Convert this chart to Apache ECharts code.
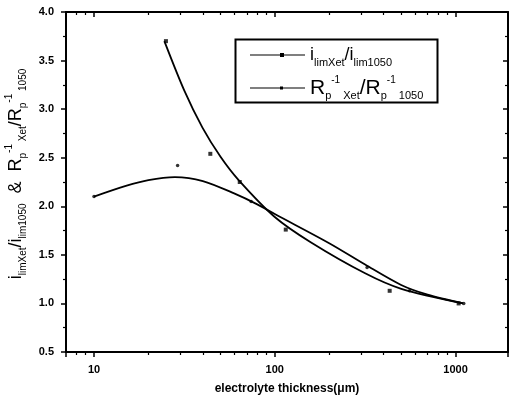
<!DOCTYPE html>
<html>
<head>
<meta charset="utf-8">
<script src="https://cdn.jsdelivr.net/npm/echarts@6/dist/echarts.min.js"></script>
<style>html,body{margin:0;padding:0;background:#fff;}#c{width:513px;height:397px;}</style>
</head>
<body>
<div id="c"></div>
<script>
// Measured points (thickness in µm, ratio)
var ilimPoints = [[25, 3.70], [44, 2.54], [64, 2.25], [115, 1.76], [432, 1.13], [1040, 1.0]];
var rpPoints = [[10, 2.10], [29, 2.42], [74, 2.05], [324, 1.37], [556, 1.13], [1110, 1.0]];
// Fitted curves
var ilimCurve = [[24.5, 3.70], [31.6, 3.19], [39.8, 2.81], [50.1, 2.51], [63.1, 2.27], [100, 1.89], [158, 1.63], [316, 1.31], [501, 1.15], [1100, 1.0]];
var rpCurve = [[10, 2.10], [15, 2.21], [20, 2.27], [28, 2.30], [40, 2.26], [60, 2.13], [80, 2.02], [100, 1.92], [200, 1.62], [316, 1.40], [500, 1.19], [700, 1.09], [1100, 1.0]];
var xTickLabels = [10, 100, 1000];

var S1 = 'ilim';
var S2 = 'rp';
var legendText = {
  ilim: '{a|i}{s|limXet}{a|/i}{s|lim1050}',
  rp: '{R|R}{s|p}{sup|-1}{s| Xet}{R|/R}{s|p}{sup|-1}{s| 1050}'
};
var FONT = '"Liberation Sans", Arial, sans-serif';

var chart = echarts.init(document.getElementById('c'));
var black = '#000';
function xAxisBase(pos, inside, showLabel) {
  return {
    type: 'log', position: pos, min: 7, max: 1950, logBase: 10,
    axisLine: {show: true, onZero: false, lineStyle: {color: black, width: 2}},
    axisTick: {show: true, inside: inside, length: 5, lineStyle: {color: black, width: 1.5}},
    minorTick: {show: true, splitNumber: 9, length: 3, lineStyle: {color: black, width: 1.2}},
    axisLabel: {show: showLabel, customValues: xTickLabels, color: black, fontFamily: FONT, fontWeight: 'bold', fontSize: 11, margin: 12,
      formatter: function (v) { return String(Math.round(v)); }},
    splitLine: {show: false}, minorSplitLine: {show: false}
  };
}
var xAxes = [
  Object.assign(xAxisBase('bottom', false, true), {
    name: 'electrolyte thickness(\u03bcm)', nameLocation: 'middle', nameGap: 31,
    nameTextStyle: {color: black, fontFamily: FONT, fontWeight: 'bold', fontSize: 12}
  }),
  xAxisBase('top', true, false)
];
function yAxisBase(pos, inside, showLabel) {
  return {
    type: 'value', position: pos, min: 0.5, max: 4.0, interval: 0.5,
    axisLine: {show: true, onZero: false, lineStyle: {color: black, width: 2}},
    axisTick: {show: true, inside: inside, length: 5, lineStyle: {color: black, width: 1.5}},
    minorTick: {show: true, splitNumber: 2, length: 3, lineStyle: {color: black, width: 1.2}},
    axisLabel: {show: showLabel, color: black, fontFamily: FONT, fontWeight: 'bold', fontSize: 11, margin: 12,
      formatter: function (v) { return v.toFixed(1); }},
    splitLine: {show: false}
  };
}
var yAxes = [
  Object.assign(yAxisBase('left', false, true), {
    name: '{a|i}{s|limXet}{a|/i}{s|lim1050}{a|  &  R}{s|p}{sup|-1}{s| Xet}{a|/R}{s|p}{sup|-1}{s| 1050}',
    nameLocation: 'middle', nameRotate: 90, nameGap: 30,
    nameTextStyle: {
      color: black, fontFamily: FONT, padding: [0, 0, 0, 16],
      rich: {
        a: {fontSize: 18, fontFamily: FONT, color: black, lineHeight: 24},
        s: {fontSize: 10, fontFamily: FONT, color: black, verticalAlign: 'bottom', lineHeight: 11},
        sup: {fontSize: 10, fontFamily: FONT, color: black, verticalAlign: 'top', lineHeight: 11}
      }
    }
  }),
  yAxisBase('right', true, false)
];

var option = {
  animation: false,
  backgroundColor: '#fff',
  grid: {left: 66, right: 5, top: 12, bottom: 45, containLabel: false, outerBoundsMode: 'none'},
  xAxis: xAxes,
  yAxis: yAxes,
  graphic: [{
    type: 'rect', left: 233, top: 37, z: 100, silent: true,
    shape: {width: 202, height: 63},
    style: {fill: 'none', stroke: black, lineWidth: 2}
  }],
  legend: {
    orient: 'vertical', left: 250, top: 46,
    borderWidth: 0, padding: 0, itemGap: 7,
    itemWidth: 55, itemHeight: 4,
    data: [
      {name: S1, icon: 'path://M0 1.5h55v1H0z M30 0h4v4h-4z'},
      {name: S2, icon: 'path://M0 1.5h55v1H0z M30 0.5h3v3h-3z'}
    ],
    formatter: function (n) { return legendText[n]; },
    textStyle: {
      color: black, fontFamily: FONT, padding: [0, 0, 0, 0],
      rich: {
        a: {fontSize: 18, fontFamily: FONT, color: black, lineHeight: 26},
        R: {fontSize: 21, fontFamily: FONT, color: black, lineHeight: 26},
        s: {fontSize: 11, fontFamily: FONT, color: black, verticalAlign: 'bottom', lineHeight: 10},
        sup: {fontSize: 10, fontFamily: FONT, color: black, verticalAlign: 'top', lineHeight: 10}
      }
    }
  },
  series: [
    {name: S1, type: 'line', data: ilimCurve, smooth: 0.3, showSymbol: false, symbol: 'none',
     lineStyle: {color: black, width: 1.8}, itemStyle: {color: black}, xAxisIndex: 0, yAxisIndex: 0, z: 2},
    {name: S1, type: 'scatter', data: ilimPoints, symbol: 'rect', symbolSize: 4,
     itemStyle: {color: black}, xAxisIndex: 0, yAxisIndex: 0, z: 3},
    {name: S2, type: 'line', data: rpCurve, smooth: 0.3, showSymbol: false, symbol: 'none',
     lineStyle: {color: black, width: 1.8}, itemStyle: {color: black}, xAxisIndex: 0, yAxisIndex: 0, z: 2},
    {name: S2, type: 'scatter', data: rpPoints, symbol: 'circle', symbolSize: 3.5,
     itemStyle: {color: black}, xAxisIndex: 0, yAxisIndex: 0, z: 3}
  ]
};
chart.setOption(option);
</script>
</body>
</html>
